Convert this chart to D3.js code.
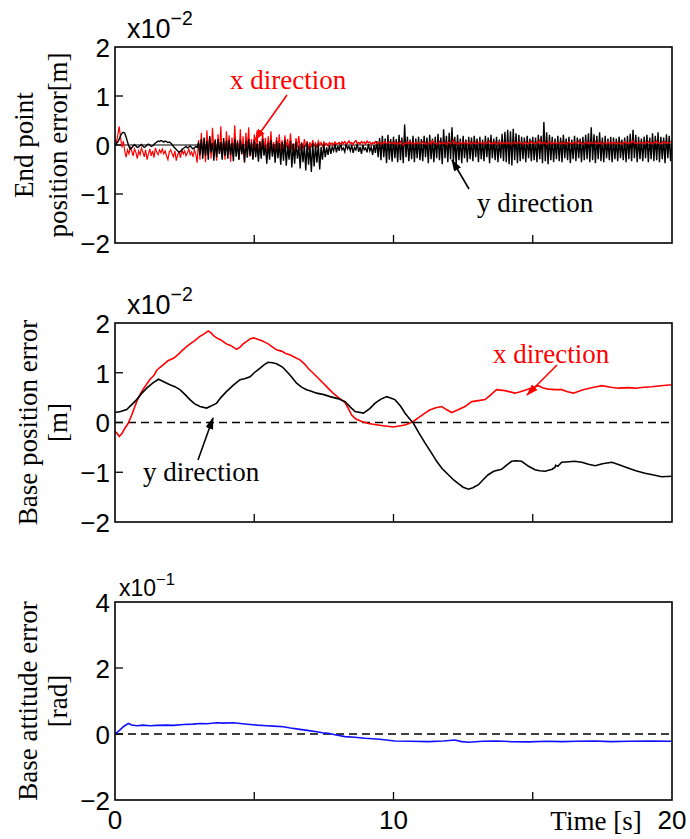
<!DOCTYPE html>
<html>
<head>
<meta charset="utf-8">
<script src="https://cdn.jsdelivr.net/npm/d3@7/dist/d3.min.js"></script>
<style>
  html, body { margin: 0; padding: 0; background: #fff; }
  svg { display: block; }
</style>
</head>
<body>
<svg id="chart" width="690" height="839"></svg>
<script>
// ---------- data ----------
// Time axis
const timeDomain = [0, 20];
const timeTicks = [5, 10, 15];
const timeTickLabels = [0, 10, 20];
const sampleStep = 0.05; // s between samples of the end-point record

// End point position error [x10^-2 m], sampled every 0.05 s from 0 to 20 s
const endPointY = [
  0.00, 0.03, 0.06, 0.12, 0.19, 0.24, 0.26, 0.24, 0.16, 0.06, -0.03, -0.08, -0.06, -0.02, 0.01, -0.02, -0.05, -0.04, -0.01, 0.01,
  -0.02, -0.05, -0.03, 0.00, 0.02, 0.00, -0.03, -0.02, 0.01, 0.04, 0.06, 0.08, 0.07, 0.09, 0.08, 0.06, 0.08, 0.07, 0.05, 0.06,
  0.04, 0.01, -0.03, -0.06, -0.09, -0.12, -0.15, -0.13, -0.10, -0.07, -0.05, -0.03, -0.06, -0.04, -0.02, -0.05, -0.08, -0.06, -0.03, -0.05,
  0.05, -0.20, 0.12, -0.28, 0.15, -0.22, 0.08, -0.30, 0.18, -0.15, 0.05, -0.32, 0.10, -0.25, 0.12, -0.18, 0.06, -0.30, 0.14, -0.22,
  0.08, -0.28, 0.10, -0.20, 0.04, -0.33, 0.12, -0.24, 0.06, -0.30, 0.10, -0.18, 0.02, -0.35, 0.08, -0.26, 0.12, -0.22, 0.05, -0.30,
  0.10, -0.25, 0.03, -0.34, 0.07, -0.28, 0.12, -0.22, 0.00, -0.38, 0.05, -0.30, 0.10, -0.24, 0.02, -0.36, 0.08, -0.27, 0.04, -0.40,
  0.06, -0.32, 0.10, -0.42, 0.00, -0.30, 0.08, -0.46, 0.02, -0.38, 0.06, -0.28, -0.02, -0.48, 0.04, -0.35, 0.00, -0.52, 0.05, -0.40,
  -0.02, -0.55, 0.04, -0.44, 0.00, -0.36, 0.03, -0.50, -0.04, -0.30, 0.02, -0.25, -0.05, -0.20, 0.00, -0.18, -0.04, -0.12, 0.02, -0.15,
  -0.02, -0.12, 0.04, -0.10, -0.06, -0.14, 0.02, -0.08, -0.03, -0.12, 0.00, -0.16, -0.05, -0.10, 0.02, -0.14, -0.04, -0.18, 0.00, -0.10,
  -0.06, -0.15, 0.02, -0.12, -0.04, -0.20, 0.00, -0.16, 0.08, -0.25, 0.14, -0.31, 0.19, -0.25, 0.13, -0.37, 0.21, -0.30, 0.12, -0.34,
  0.17, -0.27, 0.12, -0.35, 0.21, -0.31, 0.15, -0.37, 0.42, -0.25, 0.17, -0.33, 0.11, -0.29, 0.19, -0.35, 0.13, -0.27, 0.17, -0.31,
  0.12, -0.33, 0.19, -0.25, 0.15, -0.37, 0.21, -0.29, 0.13, -0.35, 0.17, -0.27, 0.23, -0.31, 0.15, -0.39, 0.32, -0.27, 0.19, -0.35,
  0.25, -0.29, 0.36, -0.33, 0.17, -0.41, 0.21, -0.31, 0.13, -0.37, 0.19, -0.27, 0.11, -0.35, 0.17, -0.29, 0.15, -0.33, 0.19, -0.25,
  0.13, -0.35, 0.17, -0.29, 0.11, -0.33, 0.19, -0.25, 0.15, -0.37, 0.21, -0.27, 0.13, -0.31, 0.17, -0.35, 0.11, -0.27, 0.23, -0.33,
  0.27, -0.35, 0.31, -0.39, 0.28, -0.42, 0.33, -0.31, 0.24, -0.37, 0.21, -0.33, 0.17, -0.29, 0.15, -0.35, 0.19, -0.27, 0.13, -0.33,
  0.17, -0.31, 0.15, -0.35, 0.21, -0.29, 0.19, -0.37, 0.47, -0.33, 0.26, -0.39, 0.21, -0.31, 0.17, -0.35, 0.13, -0.29, 0.19, -0.33,
  0.15, -0.35, 0.21, -0.27, 0.13, -0.31, 0.17, -0.37, 0.11, -0.29, 0.19, -0.33, 0.15, -0.27, 0.13, -0.35, 0.17, -0.31, 0.21, -0.29,
  0.24, -0.35, 0.36, -0.31, 0.22, -0.37, 0.19, -0.29, 0.26, -0.33, 0.15, -0.35, 0.19, -0.27, 0.13, -0.31, 0.17, -0.35, 0.15, -0.29,
  0.13, -0.33, 0.17, -0.27, 0.11, -0.31, 0.15, -0.35, 0.19, -0.29, 0.23, -0.33, 0.31, -0.27, 0.21, -0.35, 0.17, -0.29, 0.13, -0.33,
  0.17, -0.27, 0.21, -0.35, 0.15, -0.29, 0.24, -0.33, 0.19, -0.31, 0.26, -0.35, 0.17, -0.29, 0.15, -0.37, 0.22, -0.27, 0.19, -0.33, 0.10
];

const endPointX = [
  0.10, 0.05, 0.20, 0.38, 0.15, -0.05, 0.08, -0.12, -0.25, -0.10, -0.18, -0.05, -0.12, -0.22, -0.08, -0.15, -0.28, -0.12, -0.20, -0.06,
  -0.14, -0.24, -0.10, -0.30, -0.18, -0.08, -0.22, -0.12, -0.26, -0.06, -0.15, -0.20, -0.10, -0.16, -0.08, -0.18, -0.12, -0.22, -0.30, -0.14,
  -0.10, -0.18, -0.24, -0.12, -0.32, -0.20, -0.14, -0.26, -0.10, -0.18, -0.12, -0.22, -0.16, -0.08, -0.20, -0.14, -0.24, -0.10, -0.18, -0.36,
  0.10, -0.30, 0.25, -0.20, 0.05, -0.35, 0.30, -0.15, 0.18, -0.28, 0.35, -0.10, 0.12, -0.32, 0.22, -0.18, 0.38, -0.25, 0.08, -0.30,
  0.28, -0.12, 0.20, -0.34, 0.15, -0.22, 0.40, -0.16, 0.10, -0.30, 0.32, -0.20, 0.18, -0.36, 0.25, -0.10, 0.36, -0.24, 0.12, -0.28,
  0.22, -0.14, 0.30, -0.22, 0.08, -0.18, 0.26, -0.10, 0.14, -0.24, 0.18, -0.12, 0.28, -0.16, 0.06, -0.20, 0.16, -0.08, 0.22, -0.14,
  0.10, -0.18, 0.20, -0.06, 0.12, -0.14, 0.24, -0.10, 0.04, -0.16, 0.14, -0.05, 0.18, -0.12, 0.06, -0.08, 0.12, -0.04, 0.08, -0.10,
  0.06, -0.05, 0.10, -0.02, 0.04, -0.06, 0.08, 0.00, 0.05, -0.03, 0.06, 0.01, 0.03, -0.02, 0.05, 0.02, 0.04, 0.00, 0.06, 0.02,
  0.03, 0.05, 0.01, 0.06, 0.03, 0.07, 0.02, 0.04, 0.08, 0.03, 0.05, 0.01, 0.06, 0.09, 0.03, 0.05, 0.02, 0.07, 0.04, 0.06,
  0.02, 0.08, 0.04, 0.06, 0.01, 0.05, 0.03, 0.07, 0.02, 0.04, 0.06, 0.01, 0.05, 0.03, 0.07, 0.02, 0.04, 0.06, 0.03, 0.05,
  0.03, 0.06, 0.01, 0.05, 0.02, 0.07, 0.03, 0.00, 0.05, 0.02, 0.06, 0.03, 0.08, 0.02, 0.04, 0.01, 0.06, 0.03, 0.05, 0.02,
  0.04, 0.07, 0.02, 0.05, 0.01, 0.04, 0.06, 0.02, 0.09, 0.03, 0.05, 0.01, 0.04, 0.07, 0.02, 0.05, 0.03, 0.06, 0.01, 0.04,
  0.06, 0.02, 0.05, 0.10, 0.03, 0.05, 0.01, 0.04, 0.06, 0.02, 0.05, 0.03, 0.07, 0.01, 0.04, 0.06, 0.02, 0.05, 0.03, 0.06,
  0.02, 0.04, 0.07, 0.03, 0.05, 0.01, 0.06, 0.03, 0.04, 0.08, 0.02, 0.05, 0.03, 0.06, 0.01, 0.04, 0.07, 0.02, 0.05, 0.03,
  0.05, 0.02, 0.06, 0.03, 0.04, 0.01, 0.05, 0.07, 0.02, 0.04, 0.06, 0.03, 0.05, 0.01, 0.04, 0.06, 0.02, 0.05, 0.03, 0.07,
  0.03, 0.05, 0.02, 0.06, 0.04, 0.09, 0.02, 0.05, 0.03, 0.06, 0.01, 0.04, 0.07, 0.02, 0.05, 0.03, 0.06, 0.02, 0.04, 0.05,
  0.02, 0.06, 0.03, 0.05, 0.01, 0.04, 0.07, 0.02, 0.05, 0.03, 0.06, 0.02, 0.04, 0.08, 0.03, 0.05, 0.01, 0.04, 0.06, 0.03,
  0.05, 0.02, 0.06, 0.03, 0.04, 0.07, 0.02, 0.05, 0.03, 0.06, 0.01, 0.04, 0.05, 0.02, 0.07, 0.03, 0.05, 0.02, 0.06, 0.04,
  0.02, 0.05, 0.03, 0.06, 0.01, 0.04, 0.07, 0.03, 0.05, 0.02, 0.06, 0.04, 0.09, 0.03, 0.05, 0.02, 0.04, 0.06, 0.03, 0.05,
  0.02, 0.06, 0.04, 0.07, 0.03, 0.05, 0.02, 0.06, 0.04, 0.08, 0.03, 0.05, 0.02, 0.06, 0.04, 0.07, 0.03, 0.05, 0.04, 0.06, 0.05
];

// Base position error [x10^-2 m] as [time s, value]
const baseX = [
  [0,-0.18],[0.08,-0.22],[0.15,-0.28],[0.25,-0.22],[0.35,-0.12],[0.48,-0.01],[0.6,0.15],[0.7,0.30],[0.8,0.45],[0.9,0.56],
  [1.0,0.66],[1.1,0.74],[1.26,0.87],[1.4,0.95],[1.5,1.05],[1.62,1.11],[1.75,1.17],[1.9,1.24],[2.1,1.29],[2.25,1.36],
  [2.4,1.44],[2.58,1.53],[2.7,1.58],[2.85,1.64],[3.05,1.73],[3.2,1.78],[3.35,1.84],[3.45,1.80],[3.55,1.74],[3.65,1.70],
  [3.8,1.66],[4.0,1.58],[4.15,1.55],[4.37,1.47],[4.5,1.52],[4.6,1.58],[4.73,1.63],[4.85,1.68],[4.97,1.70],[5.1,1.68],
  [5.2,1.66],[5.33,1.63],[5.5,1.58],[5.65,1.52],[5.8,1.46],[6.0,1.43],[6.15,1.38],[6.28,1.36],[6.45,1.31],[6.64,1.26],
  [6.8,1.18],[6.95,1.08],[7.12,0.99],[7.3,0.89],[7.48,0.79],[7.65,0.69],[7.83,0.59],[8.05,0.49],[8.26,0.40],[8.4,0.26],
  [8.5,0.15],[8.65,0.07],[8.86,0.02],[9.1,-0.02],[9.44,-0.05],[9.7,-0.07],[10.0,-0.09],[10.2,-0.07],[10.41,-0.05],[10.55,-0.02],
  [10.71,0.02],[10.9,0.10],[11.13,0.19],[11.3,0.25],[11.49,0.29],[11.73,0.32],[11.9,0.26],[12.09,0.20],[12.3,0.25],[12.57,0.32],
  [12.81,0.42],[13.05,0.44],[13.29,0.46],[13.5,0.56],[13.7,0.66],[14.0,0.64],[14.36,0.59],[14.55,0.62],[14.78,0.66],[15.0,0.70],
  [15.2,0.74],[15.35,0.70],[15.56,0.67],[15.8,0.66],[16.04,0.66],[16.25,0.62],[16.46,0.59],[16.7,0.64],[16.88,0.67],[17.2,0.71],
  [17.48,0.74],[17.8,0.71],[18.08,0.69],[18.4,0.70],[18.68,0.69],[19.0,0.71],[19.27,0.72],[19.6,0.74],[20.0,0.76]
];

const baseY = [
  [0,0.20],[0.2,0.22],[0.42,0.26],[0.6,0.36],[0.78,0.46],[0.95,0.58],[1.14,0.69],[1.35,0.79],[1.56,0.87],[1.75,0.82],
  [1.97,0.76],[2.15,0.72],[2.33,0.66],[2.5,0.57],[2.69,0.46],[2.85,0.38],[3.05,0.32],[3.29,0.29],[3.45,0.33],[3.65,0.39],
  [3.8,0.50],[4.0,0.62],[4.25,0.75],[4.49,0.86],[4.65,0.88],[4.85,0.92],[5.0,1.00],[5.2,1.09],[5.35,1.16],[5.5,1.21],
  [5.65,1.20],[5.8,1.18],[6.0,1.12],[6.16,1.03],[6.35,0.91],[6.52,0.79],[6.7,0.71],[6.88,0.66],[7.05,0.63],[7.24,0.59],
  [7.5,0.56],[7.72,0.52],[8.0,0.48],[8.26,0.42],[8.45,0.31],[8.62,0.22],[8.92,0.19],[9.15,0.28],[9.34,0.39],[9.55,0.47],
  [9.76,0.52],[10.05,0.46],[10.25,0.33],[10.41,0.19],[10.55,0.09],[10.71,-0.01],[10.9,-0.20],[11.13,-0.41],[11.35,-0.60],[11.55,-0.78],
  [11.75,-0.93],[11.97,-1.05],[12.15,-1.15],[12.33,-1.23],[12.5,-1.30],[12.69,-1.34],[12.85,-1.31],[13.05,-1.25],[13.2,-1.16],[13.4,-1.05],
  [13.6,-0.98],[13.88,-0.94],[14.05,-0.86],[14.24,-0.78],[14.4,-0.77],[14.6,-0.78],[14.85,-0.88],[15.08,-0.95],[15.25,-0.97],[15.44,-0.98],
  [15.7,-0.94],[15.8,-0.90],[15.82,-0.86],[15.9,-0.88],[16.04,-0.80],[16.3,-0.79],[16.5,-0.78],[16.76,-0.80],[17.0,-0.84],[17.24,-0.87],
  [17.5,-0.83],[17.84,-0.80],[18.1,-0.85],[18.44,-0.92],[18.7,-0.97],[19.03,-1.02],[19.3,-1.05],[19.63,-1.09],[20.0,-1.08]
];

// Base attitude error [x10^-1 rad] as [time s, value]
const baseAttitude = [
  [0,0],[0.15,0.10],[0.3,0.22],[0.48,0.32],[0.6,0.27],[0.8,0.25],[1.0,0.27],[1.26,0.25],[1.5,0.26],[1.86,0.27],
  [2.1,0.26],[2.46,0.29],[2.8,0.30],[3.05,0.32],[3.3,0.31],[3.65,0.34],[3.9,0.33],[4.25,0.34],[4.5,0.32],[4.85,0.29],
  [5.1,0.27],[5.45,0.25],[5.7,0.24],[6.04,0.22],[6.3,0.18],[6.64,0.14],[6.9,0.11],[7.24,0.07],[7.45,0.04],[7.66,0.02],
  [7.9,-0.02],[8.26,-0.08],[8.6,-0.10],[8.98,-0.13],[9.5,-0.16],[10.05,-0.21],[10.6,-0.22],[11.25,-0.23],[11.8,-0.21],[12.2,-0.18],
  [12.45,-0.23],[12.7,-0.25],[13.2,-0.22],[13.66,-0.21],[14.2,-0.23],[14.86,-0.24],[15.5,-0.22],[16.04,-0.23],[16.6,-0.22],[17.24,-0.21],
  [17.8,-0.23],[18.44,-0.22],[19.2,-0.21],[20.0,-0.22]
];

// Axis ranges, tick values and labels per panel
const endPointDomain = [-2, 2];
const endPointTicks = [-2, -1, 0, 1, 2];
const basePosDomain = [-2, 2];
const basePosTicks = [-2, -1, 0, 1, 2];
const attitudeDomain = [-2, 4];
const attitudeTicks = [-2, 0, 2, 4];
const scaleExponents = ["−2", "−2", "−1"];
const yTitles = [
  ["End point", "position error[m]"],
  ["Base position error", "[m]"],
  ["Base attitude error", "[rad]"]
];

// ---------- drawing ----------
const svg = d3.select("#chart");
const left = 115, right = 672;
const x = d3.scaleLinear().domain(timeDomain).range([left, right]);

const panels = [
  { top: 47,  bottom: 243, domain: endPointDomain, ticks: endPointTicks, exp: scaleExponents[0], title: yTitles[0], multX: 127, multFont: 27, zeroStyle: "solid" },
  { top: 323, bottom: 522, domain: basePosDomain,  ticks: basePosTicks,  exp: scaleExponents[1], title: yTitles[1], multX: 127, multFont: 27, zeroStyle: "dashed" },
  { top: 602, bottom: 800, domain: attitudeDomain, ticks: attitudeTicks, exp: scaleExponents[2], title: yTitles[2], multX: 119, multFont: 23, zeroStyle: "dashed" }
];

panels.forEach(p => {
  p.y = d3.scaleLinear().domain(p.domain).range([p.bottom, p.top]);
});

const sans = '"Liberation Sans", Arial, Helvetica, sans-serif';
const serif = '"Liberation Serif", "Times New Roman", Times, serif';
const tickFont = 26;

// Arrow head marker definitions
const defs = svg.append("defs");
[["arrowRed", "#ff0000"], ["arrowBlack", "#000"]].forEach(([id, c]) => {
  defs.append("marker")
    .attr("id", id)
    .attr("viewBox", "0 0 12 8")
    .attr("refX", 11).attr("refY", 4)
    .attr("markerWidth", 12).attr("markerHeight", 8)
    .attr("markerUnits", "userSpaceOnUse")
    .attr("orient", "auto")
    .append("path").attr("d", "M0,0 L12,4 L0,8 Z").attr("fill", c);
});

panels.forEach((p, i) => {
  const g = svg.append("g");

  // clip for series
  defs.append("clipPath").attr("id", "clip" + i)
    .append("rect").attr("x", left).attr("y", p.top).attr("width", right - left).attr("height", p.bottom - p.top);

  // zero reference line
  g.append("line")
    .attr("x1", left).attr("x2", right)
    .attr("y1", p.y(0)).attr("y2", p.y(0))
    .attr("stroke", "#000").attr("stroke-width", p.zeroStyle === "solid" ? 1.2 : 1.5)
    .attr("stroke-dasharray", p.zeroStyle === "solid" ? null : "8,5");

  // y axis labels
  const yAxis = d3.axisLeft(p.y).tickValues(p.ticks).tickSize(0).tickPadding(5)
    .tickFormat(d => d < 0 ? "−" + Math.abs(d) : String(d));
  const ya = g.append("g").attr("transform", `translate(${left},0)`).call(yAxis);
  ya.select(".domain").remove();
  ya.selectAll("text").attr("font-family", sans).attr("font-size", tickFont).attr("fill", "#000").attr("dy", "0.36em");

  // y ticks pointing inward
  g.selectAll(".ytick").data(p.ticks.slice(1, -1)).enter().append("line")
    .attr("x1", left).attr("x2", left + 8)
    .attr("y1", d => p.y(d)).attr("y2", d => p.y(d))
    .attr("stroke", "#000").attr("stroke-width", 1.3);

  // x ticks pointing inward from the bottom edge
  g.selectAll(".xtick").data(timeTicks).enter().append("line")
    .attr("x1", d => x(d)).attr("x2", d => x(d))
    .attr("y1", p.bottom).attr("y2", p.bottom - 8)
    .attr("stroke", "#000").attr("stroke-width", 1.3);

  // scale multiplier label
  const mult = g.append("text").attr("font-family", sans).attr("fill", "#000")
    .attr("x", p.multX).attr("y", p.top - (i === 2 ? 6 : 9))
    .attr("font-size", p.multFont);
  mult.append("tspan").text("x10");
  mult.append("tspan").attr("dy", -(p.multFont * 0.5)).attr("font-size", p.multFont * 0.72).text(p.exp);

  // y title (rotated, two lines)
  const cy = (p.top + p.bottom) / 2;
  p.title.forEach((t, k) => {
    svg.append("text")
      .attr("transform", `translate(${k === 0 ? (i === 0 ? 33 : 37) : 67},${cy}) rotate(-90)`)
      .attr("text-anchor", "middle")
      .attr("font-family", serif).attr("font-size", 27).attr("fill", "#000")
      .text(t);
  });
});

// ---------- series ----------
const p0 = panels[0], p1 = panels[1], p2 = panels[2];

const pairLine = yS => d3.line().x(d => x(d[0])).y(d => yS(d[1]));
const withTime = arr => arr.map((v, i) => [i * sampleStep, v]);

const endX = withTime(endPointX), endY = withTime(endPointY);

// x direction underneath, y direction over it, then the quiet tail of x on top
svg.append("path").datum(endX).attr("clip-path", "url(#clip0)")
  .attr("d", pairLine(p0.y)).attr("fill", "none").attr("stroke", "#ff0000").attr("stroke-width", 1.2);
svg.append("path").datum(endY).attr("clip-path", "url(#clip0)")
  .attr("d", pairLine(p0.y)).attr("fill", "none").attr("stroke", "#000").attr("stroke-width", 1.4);
svg.append("path").datum(endX.filter(d => d[0] >= 7.5)).attr("clip-path", "url(#clip0)")
  .attr("d", pairLine(p0.y)).attr("fill", "none").attr("stroke", "#ff0000").attr("stroke-width", 1.1);

svg.append("path").datum(baseX).attr("clip-path", "url(#clip1)")
  .attr("d", pairLine(p1.y)).attr("fill", "none").attr("stroke", "#ff0000").attr("stroke-width", 1.6);
svg.append("path").datum(baseY).attr("clip-path", "url(#clip1)")
  .attr("d", pairLine(p1.y)).attr("fill", "none").attr("stroke", "#000").attr("stroke-width", 1.6);

svg.append("path").datum(baseAttitude).attr("clip-path", "url(#clip2)")
  .attr("d", pairLine(p2.y)).attr("fill", "none").attr("stroke", "#1010ff").attr("stroke-width", 1.6);

// ---------- frames ----------
panels.forEach(p => {
  svg.append("rect").attr("x", left).attr("y", p.top)
    .attr("width", right - left).attr("height", p.bottom - p.top)
    .attr("fill", "none").attr("stroke", "#000").attr("stroke-width", 1.6);
});

// ---------- time axis labels ----------
svg.selectAll(".xlabel").data(timeTickLabels).enter().append("text")
  .attr("x", d => x(d)).attr("y", 829)
  .attr("text-anchor", "middle").attr("font-family", sans).attr("font-size", tickFont).attr("fill", "#000")
  .text(d => d);
svg.append("text").attr("x", 596).attr("y", 830).attr("text-anchor", "middle")
  .attr("font-family", serif).attr("font-size", 27).attr("fill", "#000").text("Time [s]");

// ---------- annotations ----------
function annotate(label, color, tx, ty, from, to, marker) {
  svg.append("text").attr("x", tx).attr("y", ty)
    .attr("font-family", serif).attr("font-size", 27).attr("fill", color).text(label);
  svg.append("line")
    .attr("x1", from[0]).attr("y1", from[1]).attr("x2", to[0]).attr("y2", to[1])
    .attr("stroke", color).attr("stroke-width", 1.6)
    .attr("marker-end", `url(#${marker})`);
}
annotate("x direction", "#ff0000", 230, 89, [287, 95], [255, 140], "arrowRed");
annotate("y direction", "#000", 477, 212, [469, 189], [452, 160], "arrowBlack");
annotate("x direction", "#ff0000", 493, 363, [557, 365], [527, 395], "arrowRed");
annotate("y direction", "#000", 143, 481, [198, 460], [213, 418], "arrowBlack");
</script>
</body>
</html>
